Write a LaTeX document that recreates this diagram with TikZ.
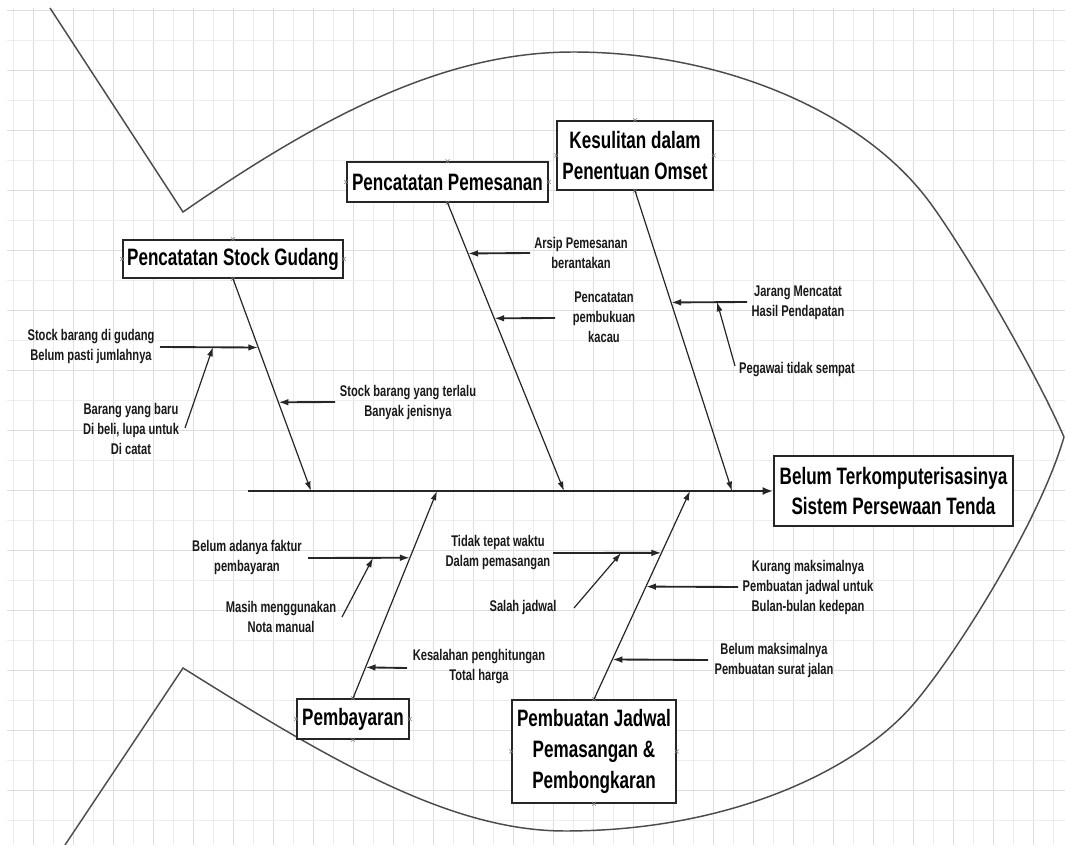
\documentclass[tikz,border=0pt]{standalone}
\usepackage{fontspec}
\setmainfont{Liberation Sans}[FakeStretch=0.72]
\usetikzlibrary{arrows.meta,calc}
\begin{document}
\begin{tikzpicture}[x=0.75pt,y=-0.75pt,
  bigfont/.style={font=\fontsize{17.8pt}{23pt}\selectfont\bfseries},
  smallfont/.style={font=\fontsize{11.6pt}{15pt}\selectfont\bfseries},
  causebox/.style={draw=black!85, line width=1.1pt, fill=white, inner sep=0pt, align=center, bigfont},
  lbl/.style={align=center, smallfont, inner sep=1pt, text=black!90},
  rib/.style={draw=black!85, line width=0.9pt, -{Latex[length=7pt,width=4.5pt]}},
  sub/.style={draw=black!85, line width=1.4pt, -{Latex[length=7.5pt,width=5pt]}},
  subsub/.style={draw=black!85, line width=0.9pt, -{Latex[length=7pt,width=4.5pt]}},
  spine/.style={draw=black!85, line width=1.8pt, -{Latex[length=8pt,width=6pt]}},
  fish/.style={draw=black!70, line width=1.1pt, line join=miter},
  gridmin/.style={draw=black!7, line width=0.5pt},
  gridmaj/.style={draw=black!13, line width=0.6pt},
  glue/.style={draw=black!50, line width=0.4pt}
]
\useasboundingbox (0,0) rectangle (1065,845);
\fill[white] (0,0) rectangle (1065,845);
% grid
\foreach \x in {13,53,...,1053} \draw[gridmin] (\x,8) -- (\x,845);
\foreach \x in {33,73,...,1063} \draw[gridmaj] (\x,8) -- (\x,845);
\foreach \y in {40,100,...,820} \draw[gridmin] (7,\y) -- (1065,\y);
\foreach \y in {10,70,...,840} \draw[gridmaj] (7,\y) -- (1065,\y);

% fish outline
\draw[fish] (50,8) -- (183,212)
  .. controls (330,110) and (450,52) .. (573,52)
  .. controls (720,52) and (860,110) .. (928,200)
  .. controls (962,245) and (1035,370) .. (1064,437);
\draw[fish] (65,845) -- (183,668)
  .. controls (330,760) and (450,831) .. (565,831)
  .. controls (730,831) and (860,770) .. (917,700)
  .. controls (960,648) and (1040,520) .. (1064,437);

% boxes
\node[causebox, minimum width=165pt, minimum height=28.5pt] (b1) at (233,259) {Pencatatan Stock Gudang};
\node[causebox, minimum width=150.75pt, minimum height=30pt] (b2) at (447.5,182) {Pencatatan Pemesanan};
\node[causebox, minimum width=117pt, minimum height=51.75pt] (b3) at (635,155.5) {Kesulitan dalam\\Penentuan Omset};
\node[causebox, minimum width=179.25pt, minimum height=52.5pt] (b4) at (893.5,491) {Belum Terkomputerisasinya\\Sistem Persewaan Tenda};
\node[causebox, minimum width=84pt, minimum height=30pt] (b5) at (353,719) {Pembayaran};
\node[causebox, minimum width=123pt, minimum height=77.25pt] (b6) at (594,751.5) {Pembuatan Jadwal\\Pemasangan \&\\Pembongkaran};

\foreach \b in {b1,b2,b3,b5,b6}
  \foreach \a in {north,south,east,west}
    \draw[glue] (\b.\a) ++(-2,-2) -- ++(4,4) ++(-4,0) -- ++(4,-4);

% spine
\coordinate (sp0) at (248,491);
\coordinate (s1) at (311,491);
\coordinate (s2) at (564,491);
\coordinate (s3) at (732,491);
\coordinate (s4) at (437,491);
\coordinate (s5) at (690,491);
\draw[spine] (sp0) -- (b4.west);

% ribs
\draw[rib] (b1.south) -- (s1);
\draw[rib] (b2.south) -- (s2);
\draw[rib] (b3.south) -- (s3);
\draw[rib] (b5.north) -- (s4);
\draw[rib] (b6.north) -- (s5);

% attachment points on ribs
\coordinate (ra) at ($(b1.south)!0.324!(s1)$);
\coordinate (rc) at ($(b1.south)!0.582!(s1)$);
\coordinate (rd) at ($(b2.south)!0.176!(s2)$);
\coordinate (re) at ($(b2.south)!0.401!(s2)$);
\coordinate (rf) at ($(b3.south)!0.372!(s3)$);
\coordinate (rh) at ($(b5.north)!0.678!(s4)$);
\coordinate (rj) at ($(b5.north)!0.149!(s4)$);
\coordinate (rk) at ($(b6.north)!0.703!(s5)$);
\coordinate (rm) at ($(b6.north)!0.541!(s5)$);
\coordinate (rn) at ($(b6.north)!0.191!(s5)$);

% tails
\coordinate (ta) at (160,347);
\coordinate (tb) at (185,428);
\coordinate (hb) at (213,347);
\coordinate (tc) at (335,402);
\coordinate (td) at (530,253);
\coordinate (te) at (555,318);
\coordinate (tf) at (747,302);
\coordinate (tg) at (735,366);
\coordinate (hg) at (717,302);
\coordinate (th) at (308,558);
\coordinate (ti) at (342,617);
\coordinate (hi) at (373,558);
\coordinate (tj) at (407,668);
\coordinate (tk) at (553,553);
\coordinate (tl) at (574,608);
\coordinate (hl) at (621,553);
\coordinate (tm) at (738,587);
\coordinate (tn) at (708,660);

% labels
\node[lbl] (la) at (91,347) {Stock barang di gudang\\Belum pasti jumlahnya};
\node[lbl] (lb) at (131,429) {Barang yang baru\\Di beli, lupa untuk\\Di catat};
\node[lbl] (lc) at (408,402) {Stock barang yang terlalu\\Banyak jenisnya};
\node[lbl] (ld) at (581,253) {Arsip Pemesanan\\berantakan};
\node[lbl] (le) at (604,317) {Pencatatan\\pembukuan\\kacau};
\node[lbl] (lf) at (798,303) {Jarang Mencatat\\Hasil Pendapatan};
\node[lbl] (lg) at (797,370) {Pegawai tidak sempat};
\node[lbl] (lh) at (247,557) {Belum adanya faktur\\pembayaran};
\node[lbl] (li) at (281,617) {Masih menggunakan\\Nota manual};
\node[lbl] (lj) at (479,667) {Kesalahan penghitungan\\Total harga};
\node[lbl] (lk) at (498,553) {Tidak tepat waktu\\Dalam pemasangan};
\node[lbl] (ll) at (523,607) {Salah jadwal};
\node[lbl] (lm) at (808,587) {Kurang maksimalnya\\Pembuatan jadwal untuk\\Bulan-bulan kedepan};
\node[lbl] (ln) at (774,660) {Belum maksimalnya\\Pembuatan surat jalan};

% cause arrows
\draw[sub] (ta) -- (ra);
\draw[subsub] (tb) -- (hb);
\draw[sub] (tc) -- (rc);
\draw[sub] (td) -- (rd);
\draw[sub] (te) -- (re);
\draw[sub] (tf) -- (rf);
\draw[subsub] (tg) -- (hg);
\draw[sub] (th) -- (rh);
\draw[subsub] (ti) -- (hi);
\draw[sub] (tj) -- (rj);
\draw[sub] (tk) -- (rk);
\draw[subsub] (tl) -- (hl);
\draw[sub] (tm) -- (rm);
\draw[sub] (tn) -- (rn);
\end{tikzpicture}
\end{document}
